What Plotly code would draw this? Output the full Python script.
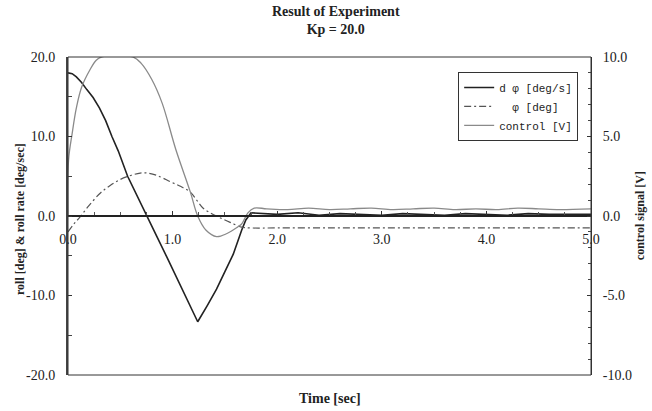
import plotly.graph_objects as go

# ---- data ----
t_rate = [0.0, 0.04, 0.08, 0.13, 0.18, 0.24, 0.30, 0.36, 0.42, 0.48, 0.57, 0.66, 0.75, 0.85,
          0.95, 1.05, 1.15, 1.24, 1.33, 1.42, 1.50, 1.58, 1.66, 1.70, 1.75, 1.85, 2.0, 2.2, 2.4,
          2.6, 2.8, 3.0, 3.2, 3.4, 3.6, 3.8, 4.0, 4.2, 4.4, 4.6, 4.8, 5.0]
roll_rate = [18.0, 17.9, 17.5, 16.8, 15.9, 14.9, 13.6, 12.0, 10.0, 8.2, 5.0, 2.5, 0.0, -2.6,
             -5.3, -8.0, -10.7, -13.3, -11.3, -9.2, -7.0, -4.8, -1.8, -0.5, 0.4, 0.3, 0.2, 0.4,
             0.1, 0.3, 0.2, 0.1, 0.3, 0.2, 0.1, 0.3, 0.2, 0.1, 0.3, 0.2, 0.2, 0.2]

t_roll = [0.0, 0.05, 0.11, 0.20, 0.31, 0.40, 0.50, 0.60, 0.69, 0.76, 0.85, 0.98, 1.08, 1.17,
          1.23, 1.29, 1.36, 1.45, 1.55, 1.66, 1.75, 2.0, 2.5, 3.0, 3.5, 4.0, 4.5, 5.0]
roll = [-2.0, -1.1, -0.2, 1.3, 2.9, 3.8, 4.6, 5.1, 5.4, 5.4, 5.1, 4.3, 3.7, 3.0,
        2.0, 1.0, 0.4, -0.2, -0.8, -1.4, -1.5, -1.5, -1.5, -1.5, -1.5, -1.5, -1.5, -1.5]

t_ctrl = [0.0, 0.005, 0.04, 0.08, 0.13, 0.21, 0.27, 0.32, 0.62, 0.70, 0.80, 0.90, 1.03, 1.17,
          1.24, 1.32, 1.42, 1.52, 1.62, 1.66, 1.72, 1.78, 1.9, 2.1, 2.3, 2.5, 2.7, 2.9, 3.1,
          3.3, 3.5, 3.7, 3.9, 4.1, 4.3, 4.5, 4.7, 5.0]
control = [0.0, 3.5, 5.2, 6.8, 8.1, 9.2, 9.8, 10.0, 10.0, 9.6, 8.6, 7.1, 4.2, 1.5,
           0.0, -0.9, -1.3, -1.1, -0.7, -0.5, 0.2, 0.5, 0.45, 0.4, 0.5, 0.4, 0.45, 0.5, 0.4,
           0.45, 0.5, 0.4, 0.45, 0.4, 0.5, 0.45, 0.4, 0.45]

x_tickvals = [0, 1, 2, 3, 4, 5]
x_ticktext = ["0.0", "1.0", "2.0", "3.0", "4.0", "5.0"]
y_tickvals = [-20, -10, 0, 10, 20]
y_ticktext = ["-20.0", "-10.0", "0.0", "10.0", "20.0"]
y2_tickvals = [-10, -5, 0, 5, 10]
y2_ticktext = ["-10.0", "-5.0", "0.0", "5.0", "10.0"]

names = ["d\u00a0\u03c6\u00a0[deg/s]", "\u00a0\u00a0\u03c6\u00a0[deg]", "control\u00a0[V]"]

serif = "Liberation Serif"
tickfont = dict(family=serif, size=14, color="#222")

fig = go.Figure()
fig.add_trace(go.Scatter(x=t_rate, y=roll_rate, mode="lines", name=names[0],
                         line=dict(color="#222222", width=1.6)))
fig.add_trace(go.Scatter(x=t_roll, y=roll, mode="lines", name=names[1], line_shape="spline",
                         line=dict(color="#555555", width=1.2, dash="7px,3px,2px,3px")))
fig.add_trace(go.Scatter(x=t_ctrl, y=control, mode="lines", name=names[2], yaxis="y2",
                         line_shape="spline",
                         line=dict(color="#8a8a8a", width=1.3)))

fig.update_layout(
    width=652, height=411,
    margin=dict(l=68, r=61, t=57, b=36),
    paper_bgcolor="white", plot_bgcolor="white",
    showlegend=True,
    legend=dict(x=0.746, y=0.953, xanchor="left", yanchor="top",
                bordercolor="#333", borderwidth=1, bgcolor="white",
                font=dict(family="Liberation Mono", size=11, color="#222"),
                itemwidth=30, tracegroupgap=0),
    xaxis=dict(range=[0, 5], anchor="free", position=0.5, showline=True,
               linecolor="#222", linewidth=1.5, showgrid=False, zeroline=False,
               tickvals=x_tickvals, ticktext=x_ticktext, ticks="inside", ticklen=4,
               tickcolor="#333", tickfont=tickfont, ticklabelstandoff=10,
               minor=dict(dtick=0.25, ticks="inside", ticklen=3, tickcolor="#555")),
    yaxis=dict(range=[-20, 20], showline=True, linecolor="#444", linewidth=2,
               showgrid=False, zeroline=False, tickvals=y_tickvals, ticktext=y_ticktext,
               ticks="inside", ticklen=4, tickcolor="#333", tickfont=tickfont,
               ticklabelstandoff=8,
               minor=dict(dtick=5, ticks="inside", ticklen=4, tickcolor="#444")),
    yaxis2=dict(range=[-10, 10], overlaying="y", side="right", showline=True,
                linecolor="#333", linewidth=1, showgrid=False, zeroline=False,
                tickvals=y2_tickvals, ticktext=y2_ticktext, ticks="inside", ticklen=4,
                tickcolor="#333", tickfont=tickfont, ticklabelstandoff=8,
                minor=dict(dtick=1, ticks="inside", ticklen=3, tickcolor="#444")),
    shapes=[dict(type="rect", xref="paper", yref="paper", x0=0, x1=1, y0=0, y1=1,
                 line=dict(color="#333", width=1), layer="above")],
    annotations=[
        dict(text="<b>Result of Experiment</b><br><b>Kp = 20.0</b>", xref="paper", yref="paper",
             x=0.512, y=1.116, xanchor="center", yanchor="middle", showarrow=False,
             font=dict(family=serif, size=14, color="#222")),
        dict(text="<b>Time [sec]</b>", xref="paper", yref="paper", x=0.5, y=-0.073,
             xanchor="center", yanchor="middle", showarrow=False,
             font=dict(family=serif, size=14, color="#222")),
        dict(text="<b>roll [deg] & roll rate [deg/sec]</b>", xref="paper", yref="paper",
             x=-0.092, y=0.49, xanchor="center", yanchor="middle", textangle=-90,
             showarrow=False, font=dict(family=serif, size=12, color="#222")),
        dict(text="<b>control signal [V]</b>", xref="paper", yref="paper",
             x=1.094, y=0.5, xanchor="center", yanchor="middle", textangle=-90,
             showarrow=False, font=dict(family=serif, size=12, color="#222")),
    ],
)

fig.write_html("out.html")
